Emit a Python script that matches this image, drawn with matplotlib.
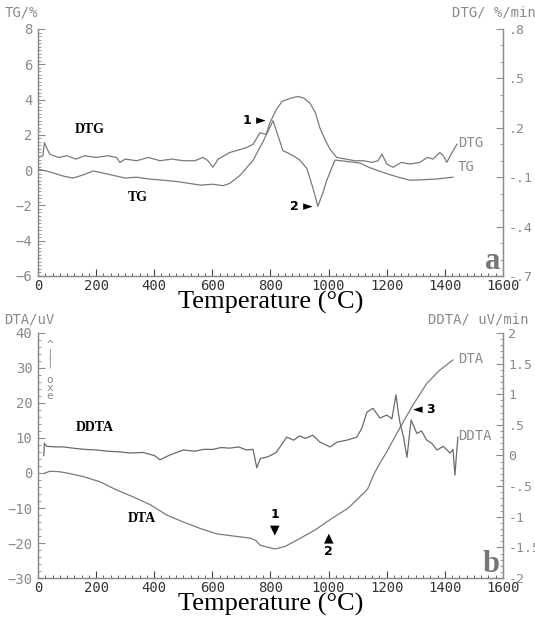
import matplotlib.pyplot as plt
from matplotlib.ticker import MultipleLocator, FixedLocator, FixedFormatter

# ---- panel a data ----
tg_temp = [0, 30, 60, 90, 120, 150, 190, 220, 260, 300, 340, 380, 430, 480, 520,
           560, 600, 637, 660, 695, 740, 774, 809, 825, 843, 857, 880, 901, 925,
           946, 963, 980, 994, 1022, 1060, 1108, 1140, 1166, 1200, 1240, 1280,
           1320, 1373, 1400, 1428]
tg_val = [0.05, -0.05, -0.2, -0.35, -0.45, -0.3, -0.05, -0.15, -0.3, -0.45, -0.4,
          -0.5, -0.57, -0.65, -0.75, -0.85, -0.8, -0.88, -0.75, -0.3, 0.55, 1.6,
          2.8, 2.0, 1.1, 1.0, 0.8, 0.57, 0.1, -1.0, -2.05, -1.3, -0.57, 0.57,
          0.5, 0.4, 0.15, 0.0, -0.2, -0.4, -0.57, -0.55, -0.5, -0.45, -0.4]

dtg_temp = [0, 17, 22, 40, 70, 100, 130, 160, 200, 240, 270, 282, 300, 340, 380,
            420, 460, 500, 540, 568, 585, 602, 620, 660, 700, 718, 740, 764, 785,
            798, 820, 840, 870, 895, 915, 936, 955, 970, 990, 1005, 1028, 1060,
            1090, 1120, 1150, 1170, 1184, 1200, 1222, 1250, 1280, 1314, 1340,
            1360, 1383, 1395, 1407, 1425, 1442]
dtg_val = [0.02, 0.03, 0.11, 0.04, 0.02, 0.03, 0.01, 0.03, 0.02, 0.03, 0.02, -0.01,
           0.01, 0.0, 0.02, 0.0, 0.01, 0.0, 0.0, 0.02, 0.0, -0.04, 0.01, 0.05,
           0.07, 0.08, 0.10, 0.17, 0.16, 0.23, 0.31, 0.36, 0.38, 0.39, 0.38, 0.35,
           0.29, 0.2, 0.12, 0.07, 0.02, 0.01, 0.0, 0.0, -0.01, 0.0, 0.04, -0.02,
           -0.04, -0.01, -0.02, -0.01, 0.02, 0.01, 0.05, 0.03, -0.01, 0.05, 0.1]

# ---- panel b data ----
dta_temp = [24, 41, 70, 100, 155, 213, 272, 327, 385, 443, 500, 557, 615, 672,
            730, 750, 764, 790, 815, 850, 895, 953, 1011, 1068, 1114, 1135, 1155,
            1178, 1200, 1246, 1291, 1338, 1383, 1428]
dta_val = [0, 0.5, 0.4, 0, -1, -2.5, -4.9, -6.8, -9, -12, -14, -15.8, -17.4, -18,
           -18.6, -19.3, -20.6, -21.2, -21.7, -21, -19, -16.3, -13, -10, -6.3,
           -4.5, -0.5, 3, 6, 13, 19.5, 25.6, 29.4, 32.3]

ddta_temp = [20, 22, 30, 60, 87, 120, 160, 202, 240, 280, 317, 360, 400, 420, 450,
             500, 540, 570, 602, 630, 660, 690, 718, 740, 753, 765, 792, 820, 856,
             880, 900, 920, 946, 970, 1005, 1030, 1063, 1097, 1115, 1132, 1153,
             1177, 1200, 1218, 1232, 1240, 1246, 1258, 1270, 1284, 1304, 1320,
             1338, 1355, 1373, 1395, 1418, 1428, 1435, 1440, 1445]
ddta_val = [0.0, 0.2, 0.15, 0.14, 0.14, 0.12, 0.1, 0.09, 0.07, 0.06, 0.04, 0.05,
            0.0, -0.07, 0.0, 0.09, 0.07, 0.1, 0.1, 0.13, 0.12, 0.14, 0.09, 0.1,
            -0.2, -0.05, -0.02, 0.05, 0.3, 0.25, 0.32, 0.28, 0.33, 0.22, 0.14,
            0.22, 0.25, 0.3, 0.45, 0.71, 0.77, 0.61, 0.66, 0.6, 0.99, 0.7, 0.53,
            0.3, -0.03, 0.58, 0.36, 0.4, 0.25, 0.2, 0.09, 0.15, 0.04, 0.1, -0.32,
            0.0, 0.3]

x_ticks = [0, 200, 400, 600, 800, 1000, 1200, 1400, 1600]
a_left_ticks = [8, 6, 4, 2, 0, -2, -4, -6]
a_right_ticks = [0.8, 0.5, 0.2, -0.1, -0.4, -0.7]
a_right_labels = ['.8', '.5', '.2', '-.1', '-.4', '-.7']
b_left_ticks = [40, 30, 20, 10, 0, -10, -20, -30]
b_right_ticks = [2, 1.5, 1, 0.5, 0, -0.5, -1, -1.5, -2]
b_right_labels = ['2', '1.5', '1', '.5', '0', '-.5', '-1', '-1.5', '-2']

LINE = '#7a7a7a'
AXC = '#8a8a8a'
MONO = 'DejaVu Sans Mono'
SERIF = 'Liberation Serif'

fig = plt.figure(figsize=(5.35, 6.18), dpi=100)


def style_axes(ax, tw):
    ax.spines['top'].set_visible(False)
    tw.spines['top'].set_visible(False)
    for a in (ax, tw):
        for s in a.spines.values():
            s.set_color(AXC)
            s.set_linewidth(0.9)
    ax.set_xlim(0, 1600)
    ax.xaxis.set_major_locator(FixedLocator(x_ticks))
    ax.xaxis.set_minor_locator(MultipleLocator(25))
    ax.tick_params(axis='x', which='major', direction='in', length=5, color='#444',
                   labelsize=10, labelcolor='#333', pad=2)
    ax.tick_params(axis='x', which='minor', direction='in', length=2.5, color='#444')
    ax.tick_params(axis='y', which='major', direction='in', length=5, color=AXC,
                   labelsize=10, labelcolor=AXC, pad=4)
    ax.tick_params(axis='y', which='minor', direction='in', length=2.5, color=AXC)
    tw.tick_params(axis='y', which='major', direction='in', length=5, color=AXC,
                   labelsize=9.5, labelcolor=AXC, pad=4)
    tw.tick_params(axis='y', which='minor', direction='in', length=2.5, color=AXC)
    for lab in ax.get_xticklabels() + ax.get_yticklabels() + tw.get_yticklabels():
        lab.set_fontfamily(MONO)
    ax.set_xlabel('Temperature (°C)', fontfamily=SERIF, fontsize=19, labelpad=-1)


# ---------- panel a ----------
ax1 = fig.add_axes([0.071, 0.5534, 0.869, 0.3997])
tw1 = ax1.twinx()
ax1.plot(tg_temp, tg_val, color=LINE, lw=0.9)
tw1.plot(dtg_temp, dtg_val, color=LINE, lw=0.9)
ax1.set_ylim(-6, 8)
tw1.set_ylim(-0.7, 0.8)
ax1.yaxis.set_major_locator(FixedLocator(a_left_ticks))
ax1.yaxis.set_minor_locator(MultipleLocator(0.2))
tw1.yaxis.set_major_locator(FixedLocator(a_right_ticks))
tw1.yaxis.set_major_formatter(FixedFormatter(a_right_labels))
tw1.yaxis.set_minor_locator(MultipleLocator(0.1))
style_axes(ax1, tw1)

fig.text(0.008, 0.973, 'TG/%', fontfamily=MONO, fontsize=10, color=AXC)
fig.text(0.845, 0.973, 'DTG/ %/min', fontfamily=MONO, fontsize=10, color=AXC)
ax1.text(125, 2.1, 'DTG', fontfamily=SERIF, fontweight='bold', fontsize=10)
ax1.text(310, -1.75, 'TG', fontfamily=SERIF, fontweight='bold', fontsize=10)
ax1.text(1445, 0.15, 'TG', fontfamily=MONO, fontsize=10, color=AXC, va='center')
tw1.text(1445, 0.11, 'DTG', fontfamily=MONO, fontsize=10, color=AXC, va='center')
ax1.text(785, 2.8, '1 ►', fontfamily='DejaVu Sans', fontweight='bold', fontsize=9,
         ha='right', va='center')
ax1.text(945, -2.05, '2 ►', fontfamily='DejaVu Sans', fontweight='bold', fontsize=9,
         ha='right', va='center')
ax1.text(1590, -5.2, 'a', fontfamily=SERIF, fontweight='bold', fontsize=22,
         color='#777', ha='right', va='center')

# ---------- panel b ----------
ax2 = fig.add_axes([0.071, 0.0647, 0.869, 0.3965])
tw2 = ax2.twinx()
ax2.plot(dta_temp, dta_val, color=LINE, lw=0.9)
tw2.plot(ddta_temp, ddta_val, color='#6a6a6a', lw=0.9)
ax2.set_ylim(-30, 40)
tw2.set_ylim(-2, 2)
ax2.yaxis.set_major_locator(FixedLocator(b_left_ticks))
ax2.yaxis.set_minor_locator(MultipleLocator(2))
tw2.yaxis.set_major_locator(FixedLocator(b_right_ticks))
tw2.yaxis.set_major_formatter(FixedFormatter(b_right_labels))
tw2.yaxis.set_minor_locator(MultipleLocator(0.1))
style_axes(ax2, tw2)

fig.text(0.008, 0.477, 'DTA/uV', fontfamily=MONO, fontsize=10, color=AXC)
fig.text(0.8, 0.477, 'DDTA/ uV/min', fontfamily=MONO, fontsize=10, color=AXC)
ax2.text(40, 38, '^\n|\n|\n\no\nx\ne', fontfamily=MONO, fontsize=8, color=AXC,
         va='top', ha='center', linespacing=0.8)
ax2.text(130, 12, 'DDTA', fontfamily=SERIF, fontweight='bold', fontsize=10)
ax2.text(310, -14, 'DTA', fontfamily=SERIF, fontweight='bold', fontsize=10)
ax2.text(1445, 32.5, 'DTA', fontfamily=MONO, fontsize=10, color=AXC, va='center')
tw2.text(1445, 0.32, 'DDTA', fontfamily=MONO, fontsize=10, color=AXC, va='center')
ax2.text(815, -14, '1\n▼', fontfamily='DejaVu Sans', fontweight='bold', fontsize=9,
         ha='center', va='center', linespacing=1.2)
ax2.text(1000, -20.5, '▲\n2', fontfamily='DejaVu Sans', fontweight='bold', fontsize=9,
         ha='center', va='center', linespacing=1.1)
tw2.text(1290, 0.75, '◄ 3', fontfamily='DejaVu Sans', fontweight='bold', fontsize=9,
         ha='left', va='center')
ax2.text(1590, -26, 'b', fontfamily=SERIF, fontweight='bold', fontsize=22,
         color='#777', ha='right', va='center')

fig.savefig('out.png', dpi=100)
